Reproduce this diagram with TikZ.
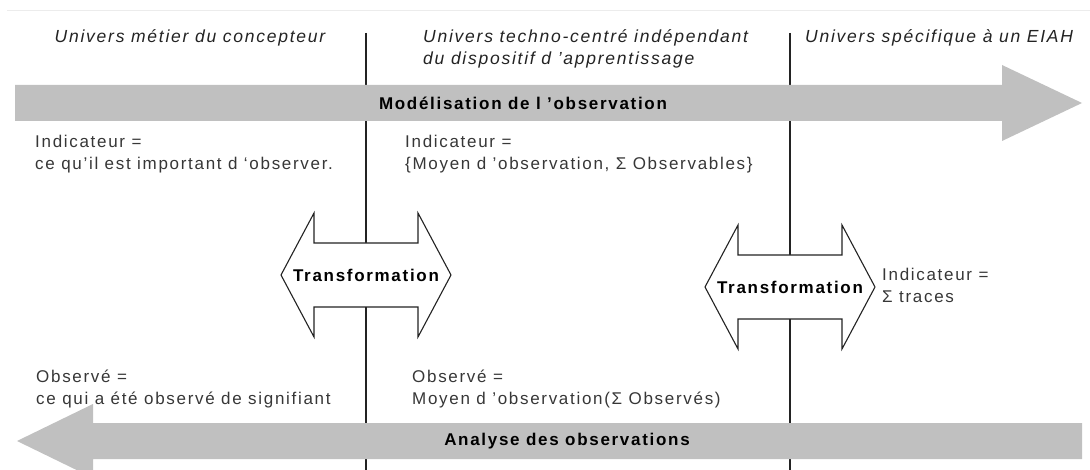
\documentclass[tikz,border=0pt]{standalone}
\usepackage{fontspec}
\setmainfont{Liberation Sans}[LetterSpace=10]
\definecolor{arrowgray}{RGB}{192,192,192}
\definecolor{ink}{RGB}{35,35,35}
\definecolor{txt}{RGB}{55,55,55}
\begin{document}
\begin{tikzpicture}[x=1pt,y=-1pt,
  sep/.style={draw=ink, line width=1.3pt},
  bigarrow/.style={fill=arrowgray, draw=none},
  dblarrow/.style={draw=ink, line width=1.1pt, fill=white, line join=miter},
  hdr/.style={font=\fontsize{17.5}{22}\selectfont\itshape, text=ink, inner sep=0pt, align=left},
  body/.style={font=\fontsize{17}{22}\selectfont, text=txt, inner sep=0pt, align=left},
  lbl/.style={font=\fontsize{17}{20}\selectfont\bfseries, text=black, inner sep=0pt}]
\useasboundingbox (0,0) rectangle (1090,470);
\fill[white] (0,0) rectangle (1090,470);
\draw[gray!15, line width=1pt] (7,11) -- (1090,11);
% separators
\coordinate (s1t) at (366,33); \coordinate (s1b) at (366,470);
\coordinate (s2t) at (790,33); \coordinate (s2b) at (790,470);
\draw[sep] (s1t) -- (s1b);
\draw[sep] (s2t) -- (s2b);
% top big arrow
\path[bigarrow] (15,85) -- (1002,85) -- (1002,65) -- (1082,103) -- (1002,141) -- (1002,121) -- (15,121) -- cycle;
\node[lbl] (model) at (523,103) {Modélisation de l 'observation};
% bottom big arrow
\path[bigarrow] (1082,423) -- (93,423) -- (93,404) -- (17,441) -- (93,478) -- (93,459) -- (1082,459) -- cycle;
\node[lbl] (analyse) at (567,441) {Analyse des observations};
% double arrows
\path[dblarrow] (281,275) -- (314,213) -- (314,243) -- (418,243) -- (418,213) -- (451,275) -- (418,337) -- (418,307) -- (314,307) -- (314,337) -- cycle;
\node[lbl] (tr1) at (366,275) {Transformation};
\path[dblarrow] (705,287) -- (738,225) -- (738,255) -- (842,255) -- (842,225) -- (875,287) -- (842,349) -- (842,319) -- (738,319) -- (738,349) -- cycle;
\node[lbl] (tr2) at (790,287) {Transformation};
% headers
\node[hdr, anchor=center] (h1) at (190,38) {Univers métier du concepteur};
\node[hdr, anchor=west] (h2) at (423,49) {Univers techno-centré indépendant\\du dispositif d 'apprentissage};
\node[hdr, anchor=west] (h3) at (805,38) {Univers spécifique à un EIAH};
% body texts
\node[body, anchor=west] (b1) at (35,154) {Indicateur =\\ce qu'il est important d `observer.};
\node[body, anchor=west] (b2) at (405,154) {Indicateur =\\\{Moyen d 'observation, Σ Observables\}};
\node[body, anchor=west] (b3) at (882,285) {Indicateur =\\Σ traces};
\node[body, anchor=west] (b4) at (36,389) {Observé =\\ce qui a été observé de signifiant};
\node[body, anchor=west] (b5) at (412,389) {Observé =\\Moyen d 'observation(Σ Observés)};
\end{tikzpicture}
\end{document}
